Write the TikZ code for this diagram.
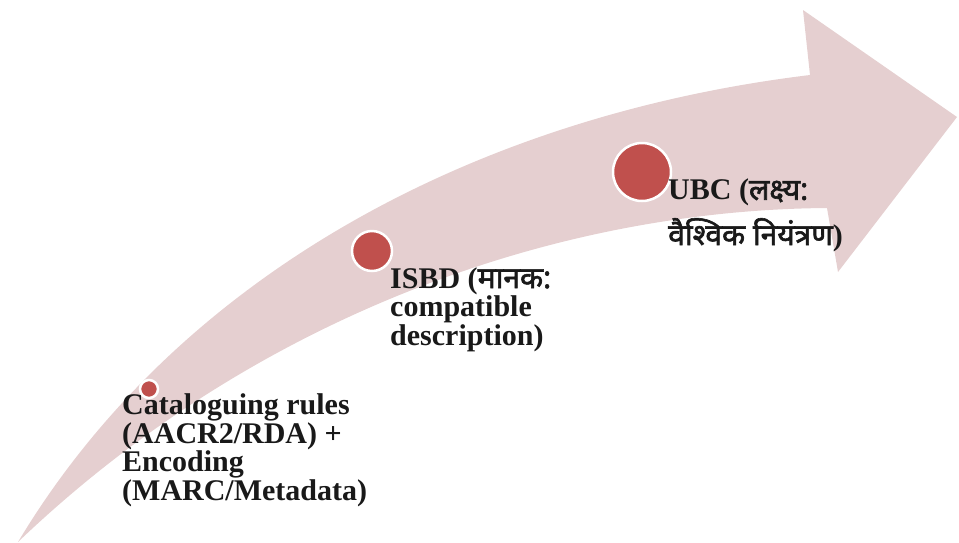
\documentclass[tikz,border=0pt]{standalone}
\usepackage{fontspec}
\setmainfont{Liberation Serif}
\newfontfamily\devfont[Script=Devanagari, AutoFakeBold=2]{Noto Sans}
\newcommand{\dev}[1]{{\devfont\fontsize{30}{28}\selectfont #1}}
\definecolor{bandpink}{RGB}{229,207,208}
\definecolor{dotred}{RGB}{192,80,77}
\tikzset{
  milestone/.style={circle, fill=dotred, draw=white, line width=2.5pt, inner sep=0pt},
  steplabel/.style={anchor=base west, inner sep=0pt, align=left,
    font=\bfseries\fontsize{30}{28.5}\selectfont, text=black!90}
}
\begin{document}
\begin{tikzpicture}[x=1pt, y=-1pt]
\useasboundingbox (0,0) rectangle (959,542);
% curved band ending in a broad arrow head
\fill[bandpink] (18,542)
  .. controls (180,272) and (480,115) .. (810,75)
  -- (803,10) -- (957,117) -- (838,272) -- (827,208)
  .. controls (550,210) and (250,320) .. (18,542) -- cycle;
% milestones on the band
\node[milestone, minimum size=18pt] (m1) at (149,389) {};
\node[milestone, minimum size=40pt] (m2) at (372,251) {};
\node[milestone, minimum size=58pt] (m3) at (642,172) {};
% labels (placed by the baseline of their last line)
\node[steplabel] (t1) at (122,500) {Cataloguing rules\\(AACR2/RDA) +\\Encoding\\(MARC/Metadata)};
\node[steplabel] (t2) at (390,345) {ISBD (\dev{मानक:}\\compatible\\description)};
\node[steplabel] (t3) at (668,245) {UBC (\dev{लक्ष्य:}\\[11pt]\dev{वैश्विक नियंत्रण})};
\end{tikzpicture}
\end{document}
